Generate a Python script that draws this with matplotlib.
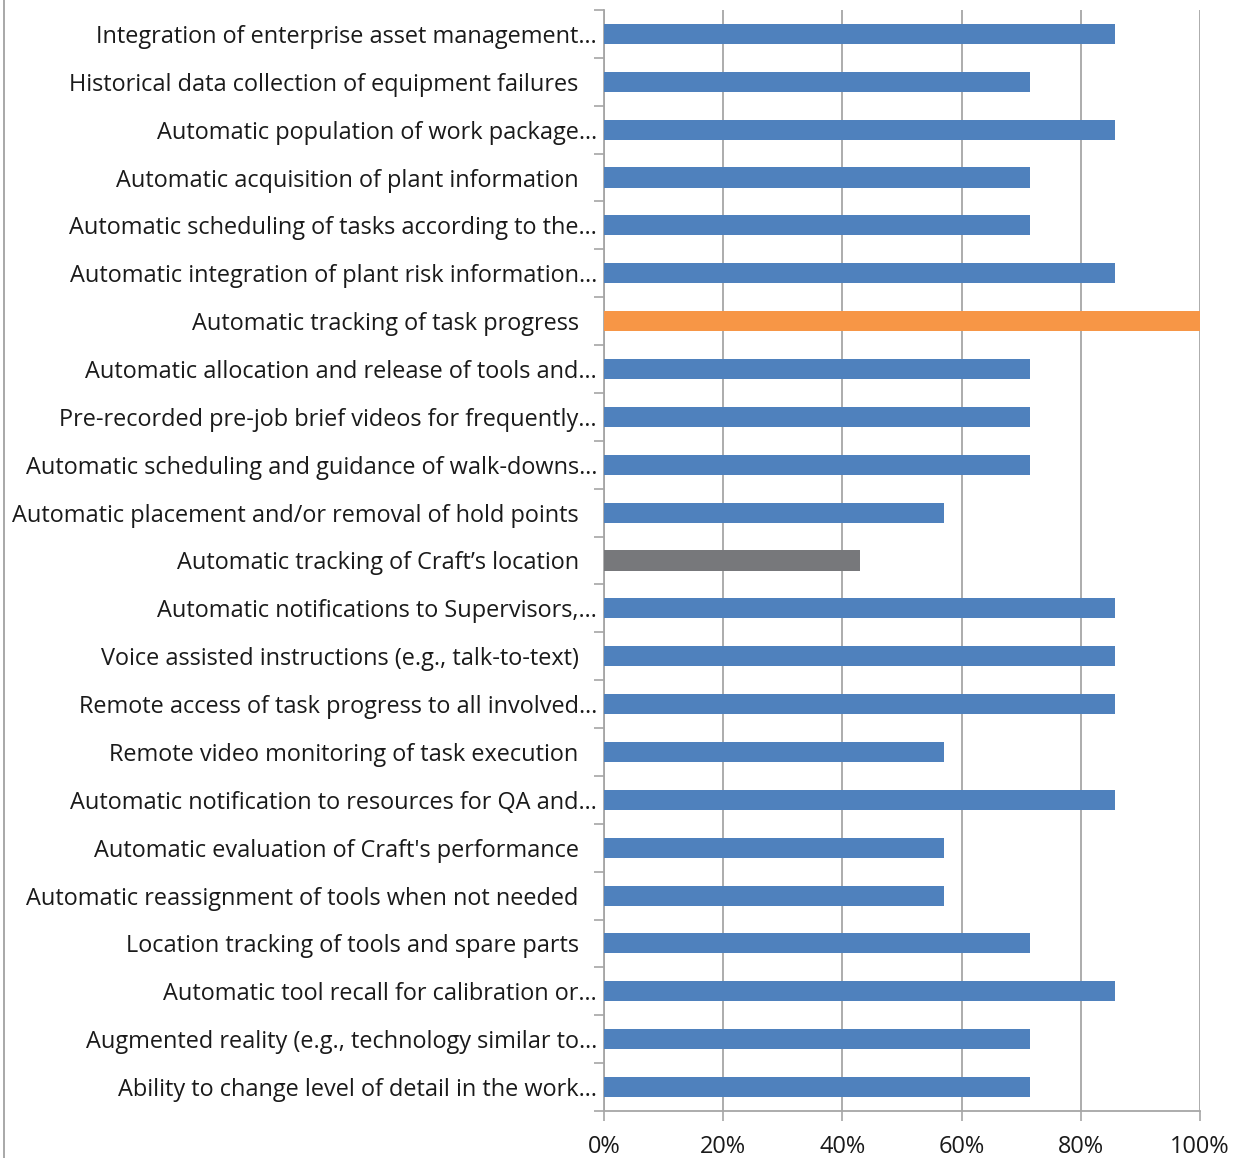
import matplotlib
matplotlib.use("Agg")
import matplotlib.pyplot as plt
from matplotlib.lines import Line2D
import numpy as np

plt.rcParams["font.family"] = ["Open Sans", "DejaVu Sans"]

labels = [
    "Integration of enterprise asset management\u2026",
    "Historical data collection of equipment failures",
    "Automatic population of work package\u2026",
    "Automatic acquisition of plant information",
    "Automatic scheduling of tasks according to the\u2026",
    "Automatic integration of plant risk information\u2026",
    "Automatic tracking of task progress",
    "Automatic allocation and release of tools and\u2026",
    "Pre-recorded pre-job brief videos for frequently\u2026",
    "Automatic scheduling and guidance of walk-downs\u2026",
    "Automatic placement and/or removal of hold points",
    "Automatic tracking of Craft\u2019s location",
    "Automatic notifications to Supervisors,\u2026",
    "Voice assisted instructions (e.g., talk-to-text)",
    "Remote access of task progress to all involved\u2026",
    "Remote video monitoring of task execution",
    "Automatic notification to resources for QA and\u2026",
    "Automatic evaluation of Craft's performance",
    "Automatic reassignment of tools when not needed",
    "Location tracking of tools and spare parts",
    "Automatic tool recall for calibration or\u2026",
    "Augmented reality (e.g., technology similar to\u2026",
    "Ability to change level of detail in the work\u2026",
]
values = [0.857, 0.714, 0.857, 0.714, 0.714, 0.857, 1.0, 0.714, 0.714, 0.714,
          0.571, 0.429, 0.857, 0.857, 0.857, 0.571, 0.857, 0.571, 0.571, 0.714,
          0.857, 0.714, 0.714]
highlight = {"Automatic tracking of task progress": "#F79646",
             "Automatic tracking of Craft\u2019s location": "#77787B"}
xticks = [0, 0.2, 0.4, 0.6, 0.8, 1.0]
xticklabels = ["0%", "20%", "40%", "60%", "80%", "100%"]

blue = "#4F81BD"
grid_col = "#A6A6A6"

fig = plt.figure(figsize=(12.41, 11.58), dpi=100)
ax = fig.add_axes([0.4867, 0.0406, 0.4803, 0.9508])

y = np.arange(len(labels))
colors = [highlight.get(l, blue) for l in labels]
ax.barh(y, values, height=0.42, color=colors, zorder=3)

ax.set_ylim(len(labels) - 0.5, -0.5)
ax.set_xlim(0, 1.0)

# labels without ellipsis sit a little further from the axis
shown = [l if l.endswith("\u2026") else l + "   " for l in labels]
ax.set_yticks(y)
ax.set_yticklabels(shown, fontsize=16.9, color="#1a1a1a")
ax.set_yticks(np.arange(len(labels) + 1) - 0.5, minor=True)
ax.tick_params(axis="y", which="major", length=0, pad=5)
ax.tick_params(axis="y", which="minor", length=7, width=1.2, color=grid_col)
for t in ax.get_yticklabels():
    t.set_va("center_baseline")

ax.set_xticks(xticks)
ax.set_xticklabels(xticklabels, fontsize=16.9, color="#1a1a1a")
ax.tick_params(axis="x", length=7, width=1.2, color=grid_col, pad=10)

ax.grid(axis="x", color=grid_col, lw=1.3, zorder=0)
for s in ["top", "right"]:
    ax.spines[s].set_visible(False)
for s in ["left", "bottom"]:
    ax.spines[s].set_color(grid_col)
    ax.spines[s].set_linewidth(1.3)

fig.add_artist(Line2D([4 / 1241, 4 / 1241], [0, 1], transform=fig.transFigure,
                      color="#9a9a9a", lw=1.2))

fig.savefig("out.png", dpi=100)
